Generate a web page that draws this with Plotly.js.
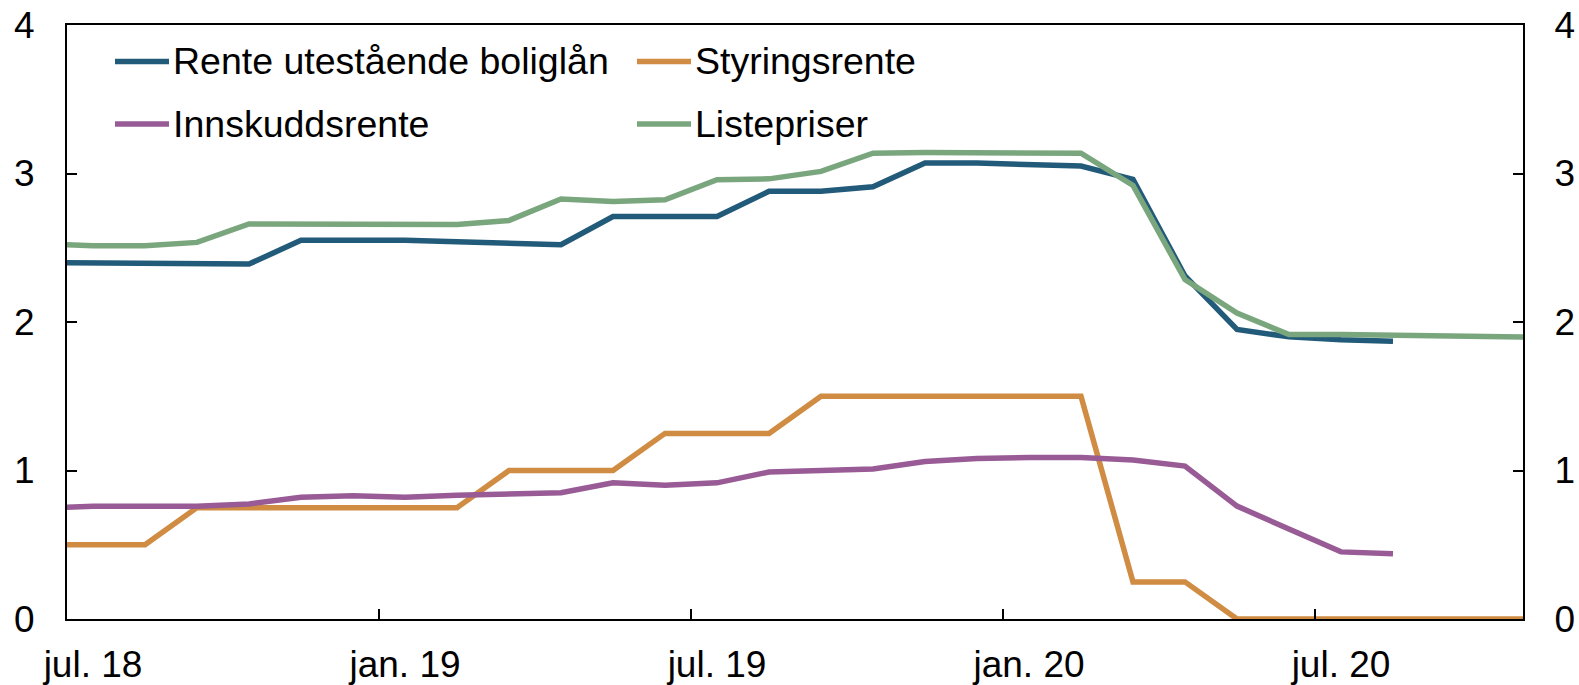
<!DOCTYPE html>
<html>
<head>
<meta charset="utf-8">
<script src="https://cdn.plot.ly/plotly-3.0.1.min.js"></script>
<style>
  html, body { margin: 0; padding: 0; background: #ffffff; }
  #chart { width: 1579px; height: 685px; }
</style>
</head>
<body>
<div id="chart"></div>
<script>
// Monthly observations (plotted mid-month)
const months = ['2018-06','2018-07','2018-08','2018-09','2018-10','2018-11','2018-12',
  '2019-01','2019-02','2019-03','2019-04','2019-05','2019-06','2019-07','2019-08','2019-09','2019-10','2019-11','2019-12',
  '2020-01','2020-02','2020-03','2020-04','2020-05','2020-06','2020-07','2020-08','2020-09','2020-10','2020-11'];

const renteBoliglan = [2.40, 2.397, 2.39, 2.39, 2.39, 2.55, 2.55,
  2.55, 2.54, 2.53, 2.52, 2.71, 2.71, 2.71, 2.88, 2.88, 2.91, 3.07, 3.07,
  3.06, 3.05, 2.96, 2.31, 1.95, 1.90, 1.88, 1.87, null, null, null];

const styringsrente = [0.5, 0.5, 0.5, 0.75, 0.75, 0.75, 0.75,
  0.75, 0.75, 1.0, 1.0, 1.0, 1.25, 1.25, 1.25, 1.5, 1.5, 1.5, 1.5,
  1.5, 1.5, 0.25, 0.25, 0, 0, 0, 0, 0, 0, 0];

const innskuddsrente = [0.745, 0.76, 0.76, 0.76, 0.775, 0.82, 0.83,
  0.82, 0.833, 0.84, 0.85, 0.917, 0.90, 0.917, 0.99, 1.00, 1.01, 1.06, 1.08,
  1.087, 1.087, 1.07, 1.03, 0.76, 0.607, 0.452, 0.44, null, null, null];

const listepriser = [2.527, 2.513, 2.513, 2.536, 2.66, 2.66, 2.66,
  2.66, 2.657, 2.684, 2.828, 2.812, 2.823, 2.958, 2.964, 3.014, 3.137, 3.141, 3.141,
  3.137, 3.137, 2.92, 2.285, 2.06, 1.915, 1.915, 1.91, 1.906, 1.90, 1.896];

const seriesNames = ['Rente utestående boliglån', 'Styringsrente', 'Innskuddsrente', 'Listepriser'];
const seriesColors = ['#225a7a', '#cf8c42', '#985b96', '#7aa67e'];

const xTickLabels = ['jul. 18', 'jan. 19', 'jul. 19', 'jan. 20', 'jul. 20'];
const xTickMonths = ['2018-07', '2019-01', '2019-07', '2020-01', '2020-07'];
const yTicks = [0, 1, 2, 3, 4];

// month index relative to July 2018 (0 = start of July 2018)
function monthIndex(s) {
  const [y, m] = s.split('-').map(Number);
  return (y - 2018) * 12 + (m - 7);
}
const xMid = months.map(s => monthIndex(s) + 0.5);

const FONT = 'Liberation Sans, Arial, sans-serif';
const allSeries = [renteBoliglan, styringsrente, innskuddsrente, listepriser];

const traces = allSeries.map((vals, i) => ({
  type: 'scatter', mode: 'lines', name: seriesNames[i],
  x: xMid, y: vals,
  line: { color: seriesColors[i], width: 5.5 },
  showlegend: false, hoverinfo: 'skip'
}));
// empty trace on right axis so it is drawn
traces.push({ type: 'scatter', mode: 'lines', x: [], y: [], yaxis: 'y2', showlegend: false, hoverinfo: 'skip' });

// Legend drawn in pixel layout
const W = 1579, H = 685;
const M = { l: 67, r: 56, t: 25, b: 66 };
const pw = W - M.l - M.r, ph = H - M.t - M.b;
const px2x = p => (p - M.l) / pw;
const py2y = p => (H - M.b - p) / ph;

const legendPos = [
  { lx: 115, ly: 61.5 }, { lx: 637, ly: 61.5 },
  { lx: 115, ly: 124 }, { lx: 637, ly: 124 }
];
const shapes = [], annotations = [];
legendPos.forEach((p, i) => {
  shapes.push({ type: 'line', xref: 'paper', yref: 'paper',
    x0: px2x(p.lx), x1: px2x(p.lx + 54), y0: py2y(p.ly), y1: py2y(p.ly),
    line: { color: seriesColors[i], width: 5.5 } });
  annotations.push({ xref: 'paper', yref: 'paper', x: px2x(p.lx + 56), y: py2y(p.ly),
    xanchor: 'left', yanchor: 'middle', showarrow: false, text: seriesNames[i],
    font: { family: FONT, size: 37.5, color: '#000' } });
});

const axisCommon = {
  showgrid: false, zeroline: false, showline: true, linecolor: '#000', linewidth: 2,
  ticks: 'inside', ticklen: 10, tickwidth: 2, tickcolor: '#000',
  tickfont: { family: FONT, size: 37, color: '#000' }
};

const layout = {
  width: W, height: H,
  margin: M,
  paper_bgcolor: '#fff', plot_bgcolor: '#fff',
  showlegend: false,
  xaxis: Object.assign({}, axisCommon, {
    type: 'linear', range: [0, 28], mirror: true,
    tickvals: xTickMonths.map(monthIndex), ticktext: xTickLabels,
    ticklabelshift: 26, ticklabelstandoff: 12
  }),
  yaxis: Object.assign({}, axisCommon, {
    range: [0, 4], tickvals: yTicks, ticktext: yTicks.map(String),
    ticklabelstandoff: 23
  }),
  yaxis2: Object.assign({}, axisCommon, {
    range: [0, 4], tickvals: yTicks, ticktext: yTicks.map(String),
    overlaying: 'y', side: 'right', ticklabelstandoff: 22
  }),
  shapes: shapes,
  annotations: annotations
};

Plotly.newPlot('chart', traces, layout, { displayModeBar: false, staticPlot: true });
</script>
</body>
</html>
